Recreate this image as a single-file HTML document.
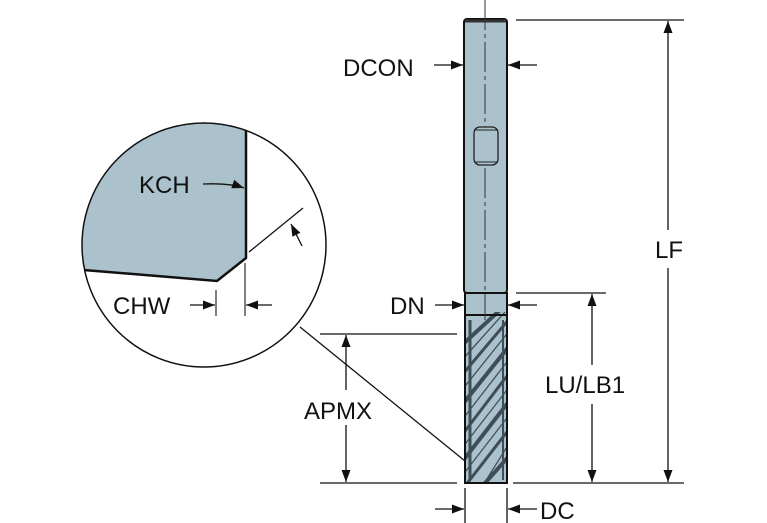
<!DOCTYPE html>
<html><head><style>
html,body{margin:0;padding:0;background:#fff;}
svg{display:block;}
text{font-family:"Liberation Sans",Arial,sans-serif;font-size:24px;fill:#111;}
</style></head><body>
<svg width="767" height="523" viewBox="0 0 767 523" xmlns="http://www.w3.org/2000/svg">
<defs>
<marker id="a" markerWidth="12" markerHeight="9" refX="12" refY="4.5" orient="auto" markerUnits="userSpaceOnUse">
<path d="M0,0 L12,4.5 L0,9 Z" fill="#111"/></marker>
<clipPath id="circ"><circle cx="204" cy="245" r="122"/></clipPath>
<clipPath id="fl"><rect x="465" y="312" width="42" height="171"/></clipPath>
</defs>
<g clip-path="url(#circ)">
<polygon points="60,268 217,281 246,258 246,100 60,100" fill="#abc1cc" stroke="#111" stroke-width="2.5"/>
</g>
<circle cx="204" cy="245" r="122" fill="none" stroke="#111" stroke-width="1.5"/>
<line x1="300" y1="327" x2="465" y2="461" stroke="#111" stroke-width="1.3"/>
<text x="139" y="193">KCH</text>
<path d="M203,184 Q230,183 244,188" fill="none" stroke="#111" stroke-width="1.3" marker-end="url(#a)"/>
<line x1="249" y1="252" x2="303" y2="208" stroke="#111" stroke-width="1.3"/>
<line x1="302" y1="246" x2="291" y2="224" stroke="#111" stroke-width="1.3" marker-end="url(#a)"/>
<text x="113" y="314">CHW</text>
<line x1="216" y1="290" x2="216" y2="316" stroke="#555" stroke-width="1.5"/>
<line x1="245" y1="263" x2="245" y2="316" stroke="#555" stroke-width="1.5"/>
<line x1="190" y1="305" x2="215" y2="305" stroke="#111" stroke-width="1.3" marker-end="url(#a)"/>
<line x1="272" y1="305" x2="246" y2="305" stroke="#111" stroke-width="1.3" marker-end="url(#a)"/>
<rect x="464" y="19" width="43" height="274" rx="3" fill="#abc1cc" stroke="#111" stroke-width="2"/>
<line x1="465" y1="21" x2="506" y2="21" stroke="#333" stroke-width="3"/>
<rect x="465" y="293" width="42" height="190" fill="#abc1cc" stroke="#111" stroke-width="2"/>
<g clip-path="url(#fl)" stroke="#3d4e58" fill="none">
<path d="M462,345 L500,310" stroke-width="4"/>
<path d="M462,375 L510,318" stroke-width="3"/>
<path d="M462,405 L510,345" stroke-width="4"/>
<path d="M462,435 L510,372" stroke-width="3"/>
<path d="M462,462 L510,400" stroke-width="4"/>
<path d="M462,490 L510,428" stroke-width="3"/>
<path d="M470,500 L510,455" stroke-width="4"/>
<path d="M462,360 L505,312" stroke-width="1.3"/>
<path d="M462,390 L510,330" stroke-width="1.3"/>
<path d="M462,420 L510,358" stroke-width="1.3"/>
<path d="M462,448 L510,386" stroke-width="1.3"/>
<path d="M462,476 L510,414" stroke-width="1.3"/>
<path d="M480,490 L510,442" stroke-width="1.3"/>
<path d="M470,320 L470,480" stroke-width="3"/>
<path d="M503,320 L503,480" stroke-width="2"/>
</g>
<rect x="465" y="315" width="42" height="168" fill="none" stroke="#111" stroke-width="2"/>
<line x1="485" y1="0" x2="485" y2="320" stroke="#333" stroke-width="1" stroke-dasharray="30,4,4,4"/>
<rect x="474" y="127" width="24" height="38" rx="6" fill="#abc1cc" stroke="#222" stroke-width="1.3"/>
<line x1="474" y1="130" x2="498" y2="130" stroke="#222"/>
<line x1="474" y1="162" x2="498" y2="162" stroke="#222"/>
<text x="343" y="76">DCON</text>
<line x1="434" y1="65" x2="463" y2="65" stroke="#111" stroke-width="1.3" marker-end="url(#a)"/>
<line x1="537" y1="65" x2="508" y2="65" stroke="#111" stroke-width="1.3" marker-end="url(#a)"/>
<text x="390" y="314">DN</text>
<line x1="435" y1="305" x2="464" y2="305" stroke="#111" stroke-width="1.3" marker-end="url(#a)"/>
<line x1="537" y1="305" x2="508" y2="305" stroke="#111" stroke-width="1.3" marker-end="url(#a)"/>
<line x1="516" y1="20" x2="684" y2="20" stroke="#111" stroke-width="1.3"/>
<line x1="668" y1="230" x2="668" y2="21" stroke="#111" stroke-width="1.3" marker-end="url(#a)"/>
<line x1="668" y1="268" x2="668" y2="482" stroke="#111" stroke-width="1.3" marker-end="url(#a)"/>
<text x="655" y="258">LF</text>
<line x1="516" y1="293" x2="606" y2="293" stroke="#111" stroke-width="1.3"/>
<line x1="592" y1="365" x2="592" y2="294" stroke="#111" stroke-width="1.3" marker-end="url(#a)"/>
<line x1="592" y1="404" x2="592" y2="482" stroke="#111" stroke-width="1.3" marker-end="url(#a)"/>
<text x="545" y="393">LU/LB1</text>
<line x1="320" y1="334" x2="457" y2="334" stroke="#111" stroke-width="1.3"/>
<line x1="346" y1="390" x2="346" y2="335" stroke="#111" stroke-width="1.3" marker-end="url(#a)"/>
<line x1="346" y1="425" x2="346" y2="482" stroke="#111" stroke-width="1.3" marker-end="url(#a)"/>
<text x="304" y="419">APMX</text>
<line x1="320" y1="483" x2="457" y2="483" stroke="#111" stroke-width="1.3"/>
<line x1="513" y1="483" x2="684" y2="483" stroke="#111" stroke-width="1.3"/>
<line x1="465" y1="488" x2="465" y2="523" stroke="#111" stroke-width="1.3"/>
<line x1="507" y1="488" x2="507" y2="523" stroke="#111" stroke-width="1.3"/>
<line x1="435" y1="509" x2="464" y2="509" stroke="#111" stroke-width="1.3" marker-end="url(#a)"/>
<line x1="537" y1="509" x2="508" y2="509" stroke="#111" stroke-width="1.3" marker-end="url(#a)"/>
<text x="540" y="519">DC</text>
</svg>
</body></html>
